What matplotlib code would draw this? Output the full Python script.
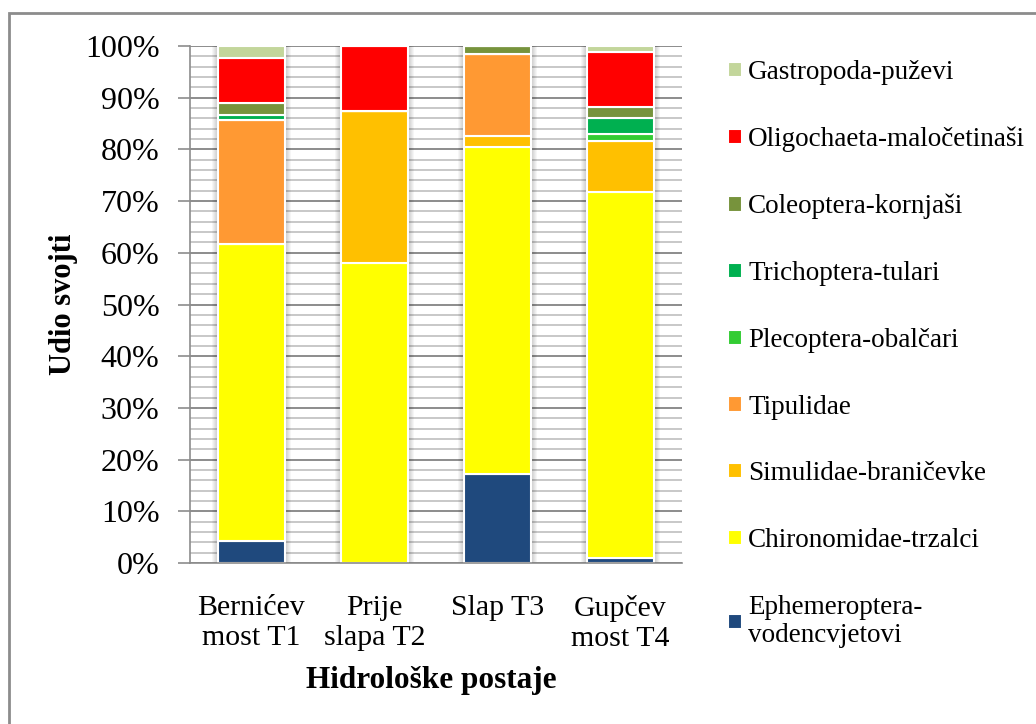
import matplotlib.pyplot as plt
from matplotlib.patches import Rectangle
from matplotlib.ticker import MultipleLocator, PercentFormatter
import numpy as np

plt.rcParams['font.family'] = ['Liberation Serif', 'DejaVu Serif']

stations = ['Bernićev\nmost T1', 'Prije\nslapa T2', 'Slap T3', 'Gupčev\nmost T4']

# share of each taxon per station (%), bottom to top of the stack
ephemeroptera = [4.3, 0.0, 17.3, 0.9]
chironomidae = [57.4, 58.1, 63.1, 70.9]
simulidae = [0.0, 29.3, 2.2, 9.9]
tipulidae = [24.0, 0.0, 15.9, 0.0]
plecoptera = [0.0, 0.0, 0.0, 1.2]
trichoptera = [0.9, 0.0, 0.0, 3.1]
coleoptera = [2.3, 0.0, 1.5, 2.2]
oligochaeta = [8.7, 12.6, 0.0, 10.7]
gastropoda = [2.4, 0.0, 0.0, 1.1]

series = [
    ('Ephemeroptera-\nvodencvjetovi', ephemeroptera, '#1F497D'),
    ('Chironomidae-trzalci', chironomidae, '#FFFF00'),
    ('Simulidae-braničevke', simulidae, '#FFC000'),
    ('Tipulidae', tipulidae, '#FF9933'),
    ('Plecoptera-obalčari', plecoptera, '#33CC33'),
    ('Trichoptera-tulari', trichoptera, '#00B050'),
    ('Coleoptera-kornjaši', coleoptera, '#77933C'),
    ('Oligochaeta-maločetinaši', oligochaeta, '#FF0000'),
    ('Gastropoda-puževi', gastropoda, '#C3D69B'),
]

fig = plt.figure(figsize=(10.36, 7.24), dpi=100)
ax = fig.add_axes([190 / 1036, 1 - 563 / 724, 492 / 1036, 517 / 724])

x = np.arange(len(stations))
width = 0.55
totals = np.sum([s[1] for s in series], axis=0)

# soft shadow around each column
for k in range(1, 7):
    ax.bar(x, totals, width=width + 0.016 * k, color='#000000', alpha=0.035,
           linewidth=0, zorder=1.5)

bottom = np.zeros(len(stations))
handles = []
for label, vals, color in series:
    b = ax.bar(x, vals, width=width, bottom=bottom, color=color,
               edgecolor='white', linewidth=1.5, zorder=2, label=label)
    handles.append(b)
    bottom += np.array(vals)

ax.set_xlim(-0.5, 3.5)
ax.set_ylim(0, 100)
ax.yaxis.set_major_locator(MultipleLocator(10))
ax.yaxis.set_minor_locator(MultipleLocator(2))
ax.yaxis.set_major_formatter(PercentFormatter(decimals=0))
ax.grid(axis='y', which='major', color='#8C8C8C', linewidth=1.4, zorder=0)
ax.grid(axis='y', which='minor', color='#C8C8C8', linewidth=1.4, zorder=0)
ax.set_axisbelow(True)

for side in ['top', 'right']:
    ax.spines[side].set_visible(False)
ax.spines['left'].set_color('#8C8C8C')
ax.spines['bottom'].set_color('#8C8C8C')
ax.spines['left'].set_linewidth(1.2)
ax.spines['bottom'].set_linewidth(1.2)

ax.tick_params(axis='y', which='major', length=9, width=1.2, color='#8C8C8C',
               labelsize=23, pad=13)
ax.tick_params(axis='y', which='minor', length=0)
ax.tick_params(axis='x', length=0, labelsize=21.5, pad=23)
ax.set_xticks(x)
ax.set_xticklabels(stations, linespacing=1.2)

ax.set_ylabel('Udio svojti', fontsize=22, fontweight='bold')
ax.yaxis.set_label_coords(-0.227, 0.5)
ax.set_xlabel('Hidrološke postaje', fontsize=22.5, fontweight='bold')
ax.xaxis.set_label_coords(0.49, -0.2)

leg = fig.legend(handles=handles[::-1], loc='upper left',
                 bbox_to_anchor=(728 / 1036, 1 - 60 / 724), frameon=False,
                 fontsize=19.5, handlelength=0.5, handleheight=0.5,
                 handletextpad=0.25, labelspacing=1.54,
                 borderpad=0, borderaxespad=0)

# outer chart frame
fig.patches.append(Rectangle((9 / 1036, -0.05), 1.2, 1 - 13 / 724 + 0.05,
                             transform=fig.transFigure, fill=False,
                             edgecolor='#8C8C8C', linewidth=2))

fig.savefig('out.png', dpi=100)
